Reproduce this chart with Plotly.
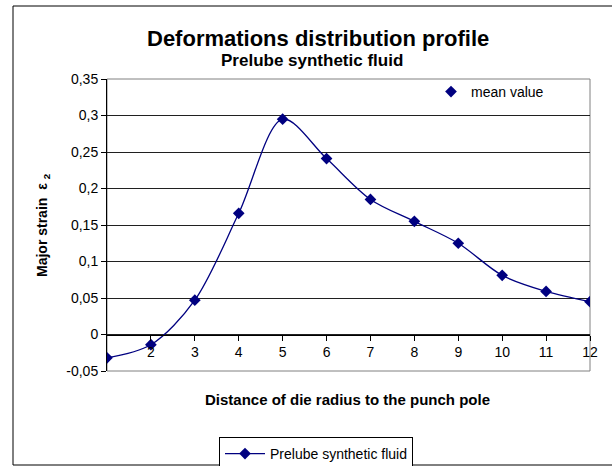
import plotly.graph_objects as go

# ---- data ----
distance = [1, 2, 3, 4, 5, 6, 7, 8, 9, 10, 11, 12]
major_strain = [-0.032, -0.014, 0.047, 0.166, 0.295, 0.241, 0.185, 0.155, 0.125, 0.081, 0.059, 0.045]
x_tick_vals = [2, 3, 4, 5, 6, 7, 8, 9, 10, 11, 12]
x_tick_text = ["2", "3", "4", "5", "6", "7", "8", "9", "10", "11", "12"]
y_tick_vals = [-0.05, 0, 0.05, 0.1, 0.15, 0.2, 0.25, 0.3, 0.35]
y_tick_text = ["-0,05", "0", "0,05", "0,1", "0,15", "0,2", "0,25", "0,3", "0,35"]

W, H = 612, 466
L, R, T, B = 107, 22, 79, 95
pw, ph = W - L - R, H - T - B

def px(xp):
    return (xp - L) / pw

def py(yp):
    return (H - B - yp) / ph

NAVY = "#000080"
FONT = "Liberation Sans, Arial, sans-serif"

fig = go.Figure()
fig.add_trace(go.Scatter(
    x=distance, y=major_strain, mode="lines+markers",
    name="Prelube synthetic fluid",
    line=dict(color=NAVY, width=1.3, shape="spline", smoothing=0.9),
    marker=dict(symbol="diamond", size=9, color=NAVY),
    legend="legend",
))
fig.add_trace(go.Scatter(
    x=[None], y=[None], mode="markers", name="mean value",
    marker=dict(symbol="diamond", size=9, color=NAVY),
    legend="legend2",
))

fig.update_layout(
    width=W, height=H,
    margin=dict(l=L, r=R, t=T, b=B, autoexpand=False),
    paper_bgcolor="white", plot_bgcolor="white",
    font=dict(family=FONT, size=14, color="black"),
    xaxis=dict(
        range=[1, 12], tickvals=x_tick_vals, ticktext=x_tick_text,
        showgrid=False, zeroline=False,
        showline=True, linecolor="black", linewidth=1,
        ticks="outside", ticklen=5, tickcolor="black",
        anchor="free", position=0.125,
        tickfont=dict(size=14),
    ),
    yaxis=dict(
        range=[-0.05, 0.35], tickvals=y_tick_vals, ticktext=y_tick_text,
        showgrid=True, gridcolor="#202020", gridwidth=1,
        zeroline=False, showline=True, linecolor="black", linewidth=1,
        ticks="outside", ticklen=5, tickcolor="black",
        tickfont=dict(size=14),
    ),
    legend=dict(
        orientation="h", x=px(316), xanchor="center", y=py(437), yanchor="top",
        bordercolor="black", borderwidth=1, bgcolor="white",
        font=dict(size=14), itemwidth=40,
    ),
    legend2=dict(
        x=px(431), xanchor="left", y=py(76), yanchor="top",
        bgcolor="rgba(0,0,0,0)", font=dict(size=14), itemwidth=30,
    ),
    showlegend=True,
)

# titles
fig.add_annotation(text="<b>Deformations distribution profile</b>", xref="paper", yref="paper",
                   x=px(318), y=py(39), showarrow=False, font=dict(size=22), xanchor="center", yanchor="middle")
fig.add_annotation(text="<b>Prelube synthetic fluid</b>", xref="paper", yref="paper",
                   x=px(312), y=py(60), showarrow=False, font=dict(size=17), xanchor="center", yanchor="middle")
fig.add_annotation(text="<b>Distance of die radius to the punch pole</b>", xref="paper", yref="paper",
                   x=px(347), y=py(399), showarrow=False, font=dict(size=15), xanchor="center", yanchor="middle")
fig.add_annotation(text="<b>Major strain  ε <sub>2</sub></b>", xref="paper", yref="paper",
                   x=px(43), y=py(225), showarrow=False, font=dict(size=14), textangle=-90,
                   xanchor="center", yanchor="middle")

# plot-area border (gray) and outer chart border (black)
fig.add_shape(type="rect", xref="x domain", yref="y domain", x0=0, x1=1, y0=0, y1=1,
              line=dict(color="#808080", width=1), layer="below")
fig.add_shape(type="rect", xref="paper", yref="paper", x0=px(13), x1=px(640), y0=py(465), y1=py(6),
              line=dict(color="black", width=1))

fig.write_html("out.html", config={"displayModeBar": False},
               post_script="document.body.style.margin='0';document.body.style.overflow='hidden';")
